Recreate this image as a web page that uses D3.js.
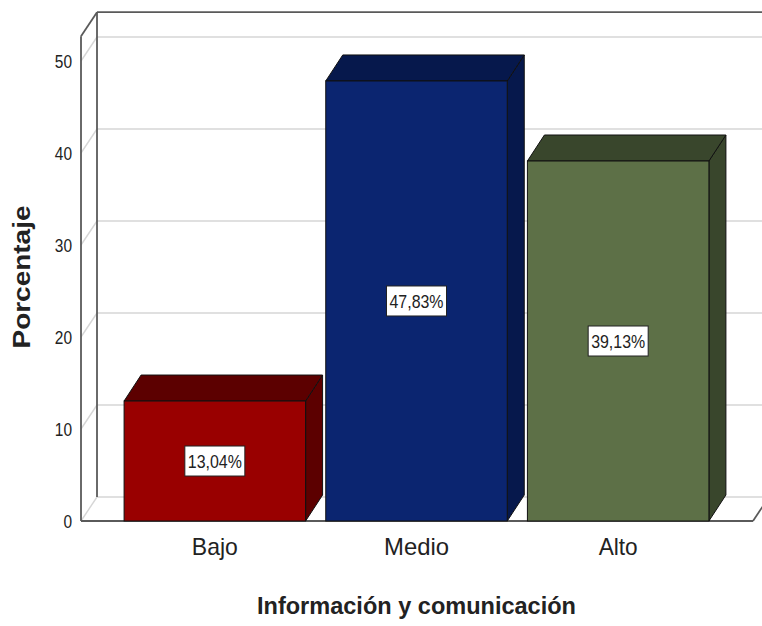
<!DOCTYPE html>
<html>
<head>
<meta charset="utf-8">
<script src="https://cdn.jsdelivr.net/npm/d3@7"></script>
<style>
  html, body { margin: 0; padding: 0; background: #fff; }
  svg { display: block; }
  text { font-family: "Liberation Sans", Arial, Helvetica, sans-serif; fill: #222; }
</style>
</head>
<body>
<svg id="chart" width="762" height="626"></svg>
<script>
// Chart data
const categories = ["Bajo", "Medio", "Alto"];
const values = [13.04, 47.83, 39.13];
const valueLabels = ["13,04%", "47,83%", "39,13%"];
const yTicks = [0, 10, 20, 30, 40, 50];
const frontColors = ["#990000", "#0b2570", "#5d7047"];
const shadeColors = ["#5c0000", "#06184c", "#39462c"];
const xTitle = "Información y comunicación";
const yTitle = "Porcentaje";

const svg = d3.select("#chart");
const W = 762;

// Scales (front plane of the 3D box)
const y = d3.scaleLinear().domain([0, 50]).range([521, 61]);
const x = d3.scaleBand().domain(categories)
  .range([114, 719]).paddingInner(0.1).paddingOuter(0.05);

const left = 81, right = 753, yMaxFrame = 52.7;
const fdx = 16, fdy = -24;   // depth offset of the frame
const bdx = 17, bdy = -26;   // depth offset of the bars

const gridColor = "#d6d6d6", frameColor = "#5a5a5a";

// Back wall and side wall grid lines
const grid = svg.append("g");
yTicks.forEach(t => {
  grid.append("line")
    .attr("x1", left + fdx).attr("x2", W + 20)
    .attr("y1", y(t) + fdy).attr("y2", y(t) + fdy)
    .attr("stroke", gridColor).attr("stroke-width", 1.6);
  grid.append("line")
    .attr("x1", left).attr("y1", y(t))
    .attr("x2", left + fdx).attr("y2", y(t) + fdy)
    .attr("stroke", gridColor).attr("stroke-width", 1.4);
});

// Frame edges
const frame = svg.append("g").attr("stroke", frameColor).attr("stroke-width", 1.8).attr("fill", "none");
frame.append("line")   // top back edge
  .attr("x1", left + fdx).attr("x2", W + 20)
  .attr("y1", y(yMaxFrame) + fdy).attr("y2", y(yMaxFrame) + fdy);
frame.append("line")   // back left vertical
  .attr("x1", left + fdx).attr("x2", left + fdx)
  .attr("y1", y(yMaxFrame) + fdy).attr("y2", y(0) + fdy);
frame.append("line")   // front left vertical
  .attr("x1", left).attr("x2", left)
  .attr("y1", y(yMaxFrame)).attr("y2", y(0));
frame.append("line")   // top left diagonal
  .attr("x1", left).attr("y1", y(yMaxFrame))
  .attr("x2", left + fdx).attr("y2", y(yMaxFrame) + fdy);
frame.append("line")   // floor front edge
  .attr("x1", left).attr("x2", right)
  .attr("y1", y(0)).attr("y2", y(0));
frame.append("line")   // floor right edge
  .attr("x1", right).attr("y1", y(0))
  .attr("x2", right + fdx).attr("y2", y(0) + fdy);

// Bars as 3D boxes
const bars = svg.append("g").selectAll("g").data(categories).join("g");
bars.each(function(c, i) {
  const g = d3.select(this);
  const x0 = x(c), x1 = x(c) + x.bandwidth();
  const yt = y(values[i]), yb = y(0);
  const pts = a => a.map(p => p.join(",")).join(" ");
  // side face
  g.append("polygon")
    .attr("points", pts([[x1, yb], [x1 + bdx, yb + bdy], [x1 + bdx, yt + bdy], [x1, yt]]))
    .attr("fill", shadeColors[i]).attr("stroke", "#111").attr("stroke-width", 1);
  // top face
  g.append("polygon")
    .attr("points", pts([[x0, yt], [x0 + bdx, yt + bdy], [x1 + bdx, yt + bdy], [x1, yt]]))
    .attr("fill", shadeColors[i]).attr("stroke", "#111").attr("stroke-width", 1);
  // front face
  g.append("rect")
    .attr("x", x0).attr("y", yt)
    .attr("width", x.bandwidth()).attr("height", yb - yt)
    .attr("fill", frontColors[i]).attr("stroke", "#111").attr("stroke-width", 1);
  // value label
  const cx = x0 + x.bandwidth() / 2, cy = (yt + yb) / 2;
  g.append("rect")
    .attr("x", cx - 30).attr("y", cy - 15)
    .attr("width", 60).attr("height", 30)
    .attr("fill", "#fff").attr("stroke", "#222").attr("stroke-width", 1);
  g.append("text")
    .attr("x", cx).attr("y", cy + 7)
    .attr("text-anchor", "middle")
    .attr("font-size", 19)
    .attr("textLength", 54).attr("lengthAdjust", "spacingAndGlyphs")
    .text(valueLabels[i]);
});

// Y axis tick labels
const yAxis = svg.append("g")
  .attr("transform", `translate(${left},0)`)
  .call(d3.axisLeft(y).tickValues(yTicks).tickSize(0).tickPadding(9));
yAxis.select(".domain").remove();
yAxis.selectAll("text")
  .attr("font-size", 19)
  .attr("fill", "#222")
  .style("font-family", "'Liberation Sans', Arial, sans-serif")
  .attr("textLength", d => String(d).length * 8.6)
  .attr("lengthAdjust", "spacingAndGlyphs");

// X axis category labels
const xAxis = svg.append("g")
  .attr("transform", `translate(0,${y(0)})`)
  .call(d3.axisBottom(x).tickSize(0).tickPadding(17));
xAxis.select(".domain").remove();
const catWidths = { "Bajo": 46, "Medio": 65, "Alto": 39 };
xAxis.selectAll("text")
  .attr("font-size", 24)
  .attr("fill", "#222")
  .style("font-family", "'Liberation Sans', Arial, sans-serif")
  .attr("textLength", d => catWidths[d])
  .attr("lengthAdjust", "spacingAndGlyphs");

// Axis titles
svg.append("text")
  .attr("x", x("Medio") + x.bandwidth() / 2).attr("y", 614)
  .attr("text-anchor", "middle")
  .attr("font-size", 24).attr("font-weight", "bold")
  .attr("textLength", 319).attr("lengthAdjust", "spacingAndGlyphs")
  .text(xTitle);

svg.append("text")
  .attr("transform", "translate(30,277) rotate(-90)")
  .attr("text-anchor", "middle")
  .attr("font-size", 23).attr("font-weight", "bold")
  .attr("textLength", 143).attr("lengthAdjust", "spacingAndGlyphs")
  .text(yTitle);
</script>
</body>
</html>
